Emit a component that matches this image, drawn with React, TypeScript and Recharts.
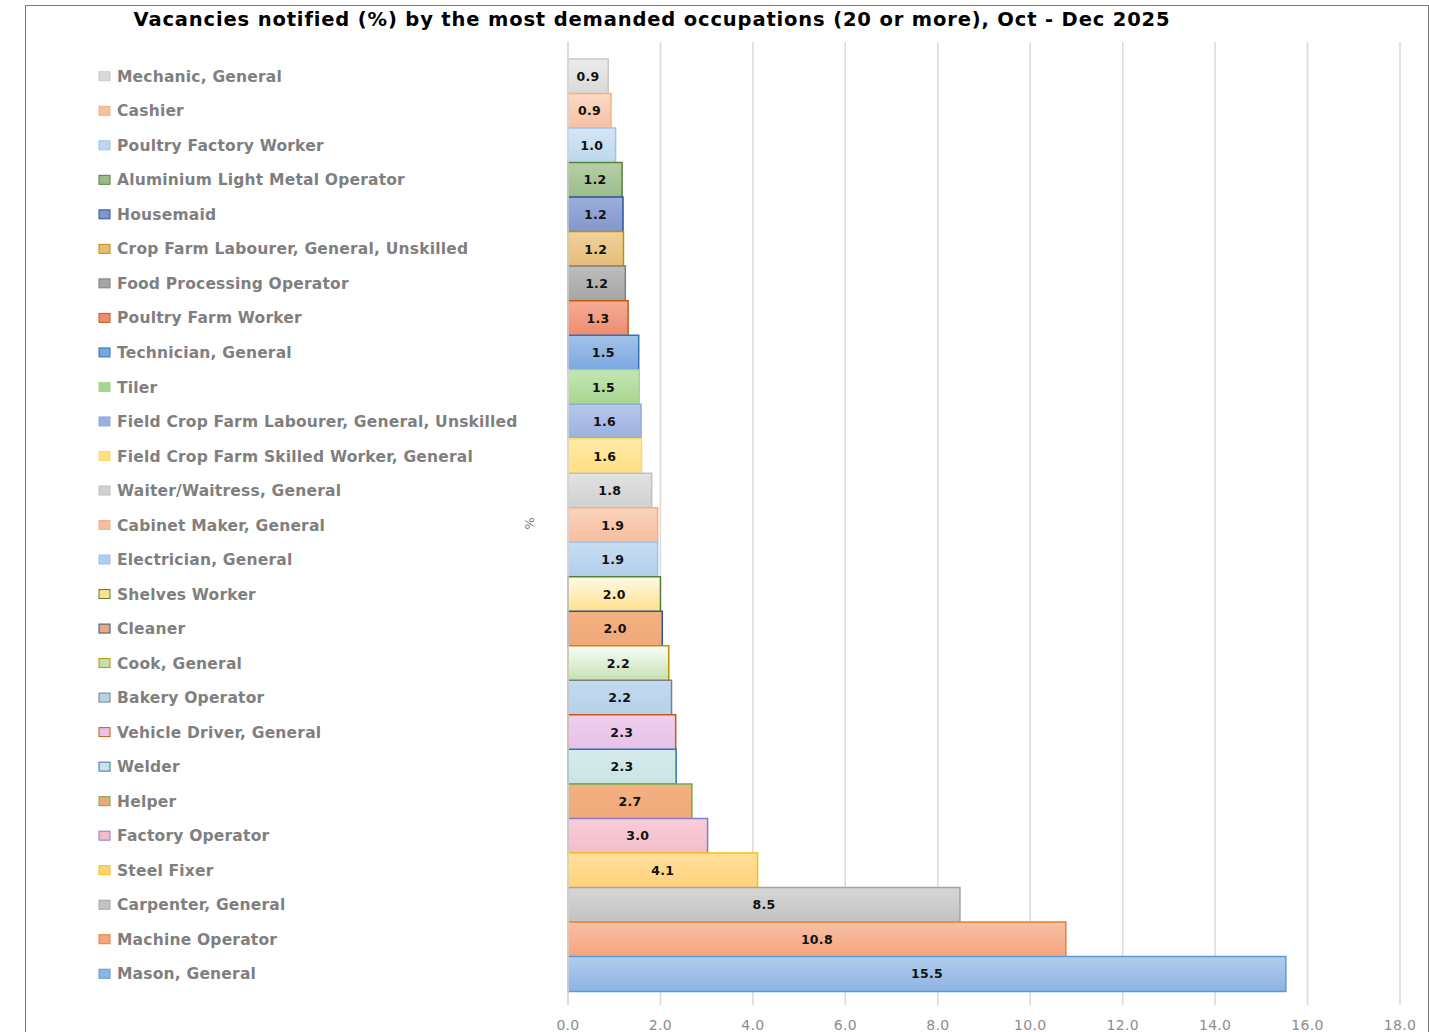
import React from 'react';
import { BarChart, Bar, XAxis, YAxis, CartesianGrid, Cell, LabelList } from 'recharts';

const categories = [
  'Mechanic, General', 'Cashier', 'Poultry Factory Worker', 'Aluminium Light Metal Operator', 'Housemaid',
  'Crop Farm Labourer, General, Unskilled', 'Food Processing Operator', 'Poultry Farm Worker', 'Technician, General',
  'Tiler', 'Field Crop Farm Labourer, General, Unskilled', 'Field Crop Farm Skilled Worker, General',
  'Waiter/Waitress, General', 'Cabinet Maker, General', 'Electrician, General', 'Shelves Worker', 'Cleaner',
  'Cook, General', 'Bakery Operator', 'Vehicle Driver, General', 'Welder', 'Helper', 'Factory Operator',
  'Steel Fixer', 'Carpenter, General', 'Machine Operator', 'Mason, General',
];
const values = [0.87, 0.93, 1.03, 1.17, 1.19, 1.2, 1.24, 1.3, 1.53, 1.54, 1.58, 1.59, 1.81, 1.94, 1.94, 2.0, 2.04, 2.18, 2.24, 2.33, 2.34, 2.68, 3.02, 4.1, 8.48, 10.77, 15.53];
const fillTop = ['#ebebeb', '#fbd9c6', '#d6e6f5', '#b6cfa8', '#9eaedb', '#f0d29c', '#bdbdbd', '#f5ad96', '#a3c3ea', '#c5e5b5', '#b8c7ea', '#ffeaa9', '#e2e2e2', '#fad3bd', '#c9def2', '#fffbea', '#f4b183', '#fbfdf9', '#c3d9ef', '#efcfef', '#d6ebeb', '#f4b183', '#f8cdd9', '#ffe09c', '#d6d6d6', '#f8c0a6', '#b0cdec'];
const fillBottom = ['#d9d9d9', '#f6c0a2', '#bdd7ee', '#9cbb8b', '#8196cb', '#e5bc78', '#a5a5a5', '#ee8c6e', '#7aa8de', '#a8d58f', '#9bb0e0', '#ffdf7f', '#cfcfcf', '#f6bd9f', '#b0cdeb', '#ffe08a', '#f0a878', '#c5e0b0', '#b6d1ec', '#e8c0e8', '#c9e3e3', '#f0a878', '#f3bcca', '#ffd27a', '#c2c2c2', '#f4a47e', '#8fb4e2'];
const strokes = ['#c8c8c8', '#f4b183', '#9dc3e6', '#548235', '#2f5597', '#bf9000', '#7f7f7f', '#c55a11', '#2e75b6', '#a9d18e', '#8faadc', '#ffd966', '#bfbfbf', '#f4b183', '#9dc3e6', '#548235', '#2f5597', '#bf9000', '#7f7f7f', '#c55a11', '#2e75b6', '#70ad47', '#8e7cc3', '#ffc000', '#a5a5a5', '#ed7d31', '#5b9bd5'];
const xTicks = [0, 2, 4, 6, 8, 10, 12, 14, 16, 18];

const data = categories.map((name, i) => ({ name, value: values[i] }));

const FONT = '"DejaVu Sans", Verdana, sans-serif';

const LegendTick = (props: any) => {
  const { y, payload, index } = props;
  return (
    <g>
      <rect x={99} y={y - 4.5} width={11} height={9} fill={fillBottom[index]} stroke={strokes[index]} strokeWidth={1} />
      <text x={117} y={y} dy="0.36em" fill="#7f7f7f" fontFamily={FONT} fontWeight="bold" fontSize={15.5} letterSpacing={0.2}>
        {payload.value}
      </text>
    </g>
  );
};

export default function App() {
  return (
    <div style={{ position: 'absolute', left: 0, top: 0, width: 1429, height: 1032, overflow: 'hidden', background: '#fff' }}>
      <div style={{ position: 'absolute', left: 25, top: 5, width: 1402, height: 1100, border: '1px solid #7a7a7a' }} />
      <div style={{ position: 'absolute', left: 0, top: 9, width: 1304, textAlign: 'center', fontFamily: FONT, fontWeight: 'bold', fontSize: 19.5, letterSpacing: 0.85, color: '#000', lineHeight: '22px', whiteSpace: 'nowrap' }}>
        Vacancies notified (%) by the most demanded occupations (20 or more), Oct - Dec 2025
      </div>
      <div style={{ position: 'absolute', left: 0, top: 0 }}>
        <BarChart width={1429} height={1032} data={data} layout="vertical" barCategoryGap={0}
          margin={{ top: 42, right: 29, bottom: 0, left: 0 }}>
          <defs>
            {categories.map((c, i) => (
              <linearGradient key={c} id={`g${i}`} x1="0" y1="0" x2="0" y2="1">
                <stop offset="0%" stopColor={fillTop[i]} />
                <stop offset="100%" stopColor={fillBottom[i]} />
              </linearGradient>
            ))}
          </defs>
          <CartesianGrid horizontal={false} stroke="#d9d9d9" strokeWidth={1.5} />
          <XAxis type="number" domain={[0, 18]} ticks={xTicks} height={27} tickSize={0} tickMargin={15}
            axisLine={false} tickLine={false} interval={0}
            tickFormatter={(v: number) => v.toFixed(1)}
            tick={{ fill: '#8c8c8c', fontSize: 14, fontFamily: FONT, letterSpacing: 0.3 }} />
          <YAxis type="category" dataKey="name" width={568} padding={{ top: 17, bottom: 14 }}
            axisLine={{ stroke: '#d9d9d9', strokeWidth: 1.5 }} tickLine={false} interval={0}
            tick={<LegendTick />}
            label={{
              content: (p: any) => {
                const vb = p.viewBox;
                const cx = vb.x + vb.width - 38;
                const cy = vb.y + vb.height / 2;
                return <text x={cx} y={cy} transform={`rotate(90 ${cx} ${cy})`} textAnchor="middle" dy="0.35em" fill="#7f7f7f" fontFamily={FONT} fontSize={13}>%</text>;
              },
            }} />
          <Bar dataKey="value" isAnimationActive={false} strokeWidth={1.5}>
            {data.map((d, i) => (
              <Cell key={d.name} fill={`url(#g${i})`} stroke={strokes[i]} />
            ))}
            <LabelList dataKey="value" position="center" formatter={(v: any) => Number(v).toFixed(1)}
              fill="#111" fontFamily={FONT} fontWeight="bold" fontSize={12.5} letterSpacing={0.3} />
          </Bar>
        </BarChart>
      </div>
    </div>
  );
}
